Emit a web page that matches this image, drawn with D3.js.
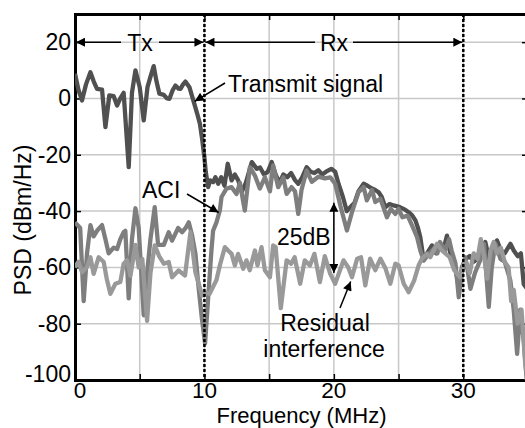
<!DOCTYPE html>
<html>
<head>
<meta charset="utf-8">
<script src="https://cdn.jsdelivr.net/npm/d3@7"></script>
<style>
  body { margin: 0; background: white; }
  text { font-family: "Liberation Sans", Arial, sans-serif; fill: black; }
</style>
</head>
<body>
<div id="chart"></div>
<script>
// frequency (MHz) / PSD (dBm/Hz)
const txFreq = [0,0.27,0.54,0.85,1.19,1.45,1.7,2.09,2.35,2.65,2.99,3.25,3.5,3.76,4.15,4.4,4.67,5.0,5.31,5.6,5.85,6.08,6.3,6.52,6.86,7.1,7.3,7.55,7.76,8.0,8.15,8.35,8.53,8.84,9.18,9.44,9.65,9.82,10.0,10.1,10.29,10.44,10.67,10.85,11.06,11.3,11.55,11.8,12.1,12.35,12.6,12.9,13.2,13.45,13.66,14.05,14.3,14.6,14.9,15.2,15.5,15.8,16.1,16.4,16.7,17.0,17.25,17.55,17.9,18.2,18.5,18.8,19.1,19.4,19.8,20.1,20.36,20.7,21.0,21.27,21.6,21.9,22.3,22.6,22.95,23.2,23.46,23.7,23.97,24.3,24.62,25.1,25.5,25.78,26.05,26.3,26.5,26.68,26.94,27.2,27.58,27.9,28.2,28.45,28.74,29.0,29.3,29.65,29.9,30.16,30.5,30.8,31.07,31.4,31.7,32.0,32.3,32.6,32.9,33.2,33.64,33.9,34.2,34.45,34.67,35]
const txPsd = [8.8,3,-0.7,5,9.3,6,3.4,3.1,-10.2,1.1,0.8,-2.5,0,2,-24.4,2,10,4,-7.8,4,8,11.5,6,1.7,1.3,0,-0.1,3,4.6,3.5,3.4,5,6,4,-1.3,-5.4,-9,-14.3,-21,-26,-31.5,-29.1,-29.7,-28,-30.3,-28,-31,-23.2,-29.1,-27,-29,-33,-30,-26,-22.6,-25,-24.5,-27,-26,-22.6,-27,-30,-27,-28,-26.5,-29,-30.3,-28,-24.4,-26,-26.5,-25.5,-27,-26,-25,-26,-30.3,-35,-40,-38.6,-37,-33,-30.3,-31,-32,-32.5,-33.3,-35,-38.6,-37.5,-38,-38.6,-39.5,-40.4,-41.5,-43.3,-46,-49.3,-57.5,-55,-52.2,-55,-52,-54,-48.7,-55,-58,-67,-60,-57,-56,-58,-57,-53,-51,-57,-55,-50.4,-54,-55,-51.6,-54,-56,-55,-66,-68]

const aciFreq = [0,0.4,0.67,0.93,1.19,1.44,1.7,2.09,2.35,2.6,2.99,3.25,3.5,3.76,3.89,4.15,4.4,4.67,4.92,5.31,5.57,5.83,6.16,6.42,6.86,7.24,7.5,7.97,8.28,8.55,8.79,9.05,9.3,9.56,9.8,10.05,10.3,10.54,10.67,10.93,11.19,11.32,11.7,12.1,12.48,12.74,13.12,13.51,13.9,14.28,14.67,15.06,15.31,15.7,16.1,16.35,16.73,17.0,17.25,17.5,17.9,18.3,18.8,19.3,19.72,20.1,20.5,21.01,21.4,21.9,22.3,22.55,22.95,23.2,23.6,24.1,24.4,24.75,25.0,25.3,25.7,26.04,26.43,26.68,26.94,27.3,27.7,28.0,28.2,28.6,28.9,29.1,29.4,29.65,29.9,30.15,30.3,30.55,30.9,31.3,31.6,31.97,32.2,32.48,32.87,33.2,33.64,33.9,34.16,34.4,34.67,34.9]
const aciPsd = [-44,-46,-72,-55,-45,-49,-47,-45,-50,-55,-53,-53.5,-50,-47.5,-47,-71,-50,-39,-46,-77,-62,-50,-38.6,-52,-52,-47.5,-50.5,-46,-47.5,-46,-44,-48.7,-55,-67.6,-78,-87,-70,-54,-47,-44,-39.8,-35,-32,-31.5,-33.9,-30,-39.8,-24.4,-27.4,-32,-28,-33,-23.8,-31.5,-28,-33.9,-31.5,-33,-41,-32.5,-25.6,-29.6,-27.8,-28.4,-28,-30.3,-38,-46.9,-40.4,-33.3,-31.5,-36.2,-32.5,-36.8,-35.6,-42.2,-39.2,-41,-39.2,-42.2,-41.6,-45.1,-49.3,-54,-57.5,-55.5,-53.4,-55,-51,-54,-50,-54,-58.7,-70.6,-62,-56.4,-59.9,-67.6,-62,-57.5,-51.6,-74,-60,-51.6,-57,-58,-64.7,-75.3,-90.7,-75,-86,-100]

const resFreq = [0,0.27,0.54,0.93,1.19,1.44,1.83,2.22,2.45,2.73,3.12,3.5,3.76,4.02,4.28,4.67,4.92,5.2,5.57,5.83,6.16,6.5,6.86,7.24,7.5,8.0,8.5,8.92,9.3,9.82,10.2,10.4,10.93,11.19,11.58,11.83,12.1,12.35,12.6,13.0,13.25,13.5,13.9,14.1,14.41,14.67,15.06,15.31,15.5,15.9,16.35,16.7,16.97,17.4,17.75,18.15,18.5,18.92,19.3,19.72,20.1,20.75,21.1,21.4,21.8,22.1,22.43,22.8,23.2,23.6,24.0,24.36,24.75,25.0,25.4,25.78,26.2,26.55,26.8,27.2,27.45,27.97,28.35,28.95,29.3,29.74,30.0,30.2,30.5,30.8,31.1,31.35,31.6,31.85,32.1,32.35,32.6,32.9,33.2,33.5,33.7,33.9,34.2,34.5,34.8,35]
const resPsd = [-60,-58,-61.7,-59.9,-56.4,-62.3,-56.4,-58.1,-64,-69.4,-65.8,-65.2,-58.7,-57.5,-63,-52,-60,-57,-79,-62,-52.2,-56,-58.7,-58.1,-63.5,-61.1,-62.9,-47.5,-61.7,-70,-69,-69.4,-64.5,-59.3,-52.8,-54,-55.2,-59.3,-55.2,-60.5,-57.5,-61,-54,-59.3,-52.8,-61,-63.5,-52.2,-52.8,-74.5,-57.5,-58.7,-56.4,-65.8,-57.5,-59.3,-55.2,-65.2,-56,-62.3,-65.8,-57.5,-59.9,-63.5,-56.9,-56.4,-66.4,-56.9,-61,-56.9,-60.5,-65.8,-58.7,-59.3,-65.8,-68.8,-64.7,-59.3,-56.9,-55.2,-56.4,-51.6,-54,-56.4,-61,-63.5,-59,-58,-62,-55,-57,-50,-56,-64,-54,-51,-55,-53,-58,-60,-72,-68,-80,-75,-95,-100]

const xTicks = [0, 10, 20, 30]
const yTicks = [20, 0, -20, -40, -60, -80, -100]
const bandEdges = [10, 30]

const width = 525;
const height = 428;
const margin = {top: 14, right: -3, bottom: 48, left: 75};

const svg = d3.select("#chart")
              .append("svg")
              .attr("width", width)
              .attr("height", height)

const x = d3.scaleLinear()
            .domain([0, 35])
            .range([margin.left, width - margin.right])

const y = d3.scaleLinear()
            .domain([-100, 30])
            .range([height - margin.bottom, margin.top])

svg.append("defs")
   .append("clipPath")
   .attr("id", "plot")
   .append("rect")
   .attr("x", x(0))
   .attr("y", y(30))
   .attr("width", x(35) - x(0))
   .attr("height", y(-100) - y(30))

const marker = svg.select("defs")
                  .append("marker")
                  .attr("id", "head")
                  .attr("viewBox", "0 0 10 10")
                  .attr("refX", 10)
                  .attr("refY", 5)
                  .attr("markerUnits", "userSpaceOnUse")
                  .attr("markerWidth", 11)
                  .attr("markerHeight", 9)
                  .attr("orient", "auto-start-reverse")
marker.append("path")
      .attr("d", "M0,0L10,5L0,10Z")
      .attr("fill", "black")

// grid
svg.append("g")
   .selectAll("line")
   .data(d3.range(5, 35, 5))
   .enter()
   .append("line")
   .attr("x1", d => x(d))
   .attr("x2", d => x(d))
   .attr("y1", y(30))
   .attr("y2", y(-100))
   .attr("stroke", "#c8c8c8")
   .attr("stroke-width", 1.5)

svg.append("g")
   .selectAll("line")
   .data(yTicks.slice(0, -1))
   .enter()
   .append("line")
   .attr("x1", x(0))
   .attr("x2", x(35))
   .attr("y1", d => y(d))
   .attr("y2", d => y(d))
   .attr("stroke", "#c8c8c8")
   .attr("stroke-width", 1.5)

// axes with inward ticks
const bottomAxis = d3.axisBottom(x).tickValues(d3.range(0, 36, 5)).tickSize(-6).tickFormat("")
const topAxis = d3.axisTop(x).tickValues(d3.range(0, 36, 5)).tickSize(-6).tickFormat("")
const leftAxis = d3.axisLeft(y).tickValues(yTicks).tickSize(-6).tickFormat("")
const rightAxis = d3.axisRight(y).tickValues(yTicks).tickSize(-6).tickFormat("")

const axes = [
  [bottomAxis, `translate(0,${y(-100)})`],
  [topAxis, `translate(0,${y(30)})`],
  [leftAxis, `translate(${x(0)},0)`],
  [rightAxis, `translate(${x(35)},0)`]
]
axes.forEach(([axis, t]) => {
  const g = svg.append("g").attr("transform", t).call(axis)
  g.select(".domain").attr("stroke", "black").attr("stroke-width", 3)
  g.selectAll(".tick line").attr("stroke", "black").attr("stroke-width", 1.5)
})

// series
const line = d3.line()
               .x(d => x(d[0]))
               .y(d => y(d[1]))

const series = [
  {freq: txFreq, psd: txPsd, color: "#505050"},
  {freq: aciFreq, psd: aciPsd, color: "#7e7e7e"},
  {freq: resFreq, psd: resPsd, color: "#999999"}
]

svg.append("g")
   .attr("clip-path", "url(#plot)")
   .selectAll("path")
   .data(series)
   .enter()
   .append("path")
   .attr("d", d => line(d.freq.map((f, i) => [f, d.psd[i]])))
   .attr("fill", "none")
   .attr("stroke", d => d.color)
   .attr("stroke-width", 4.3)
   .attr("stroke-linejoin", "round")

// band edges
svg.append("g")
   .selectAll("line")
   .data(bandEdges)
   .enter()
   .append("line")
   .attr("x1", d => x(d))
   .attr("x2", d => x(d))
   .attr("y1", y(30))
   .attr("y2", y(-100))
   .attr("stroke", "black")
   .attr("stroke-width", 2.5)
   .attr("stroke-dasharray", "3,2")

// tick labels
svg.append("g")
   .selectAll("text")
   .data(xTicks)
   .enter()
   .append("text")
   .attr("x", d => x(d) + (d === 0 ? 5 : 0))
   .attr("y", 398)
   .attr("text-anchor", "middle")
   .attr("font-size", 22.5)
   .text(d => d)

svg.append("g")
   .selectAll("text")
   .data(yTicks)
   .enter()
   .append("text")
   .attr("x", 71)
   .attr("y", d => y(d) + 8 - (d === -100 ? 6 : 0))
   .attr("text-anchor", "end")
   .attr("font-size", 23)
   .text(d => d)

svg.append("text")
   .attr("x", (x(0) + x(35)) / 2)
   .attr("y", 423)
   .attr("text-anchor", "middle")
   .attr("font-size", 22)
   .text("Frequency (MHz)")

svg.append("text")
   .attr("transform", "translate(31,220) rotate(-90)")
   .attr("text-anchor", "middle")
   .attr("font-size", 23)
   .text("PSD (dBm/Hz)")

// Tx / Rx span arrows
const spans = [
  {label: "Tx", from: 0, to: 10, mid: 140},
  {label: "Rx", from: 10, to: 30, mid: 334}
]
spans.forEach(s => {
  const yy = y(20)
  svg.append("line")
     .attr("x1", x(s.from) + 1).attr("x2", s.mid - 19)
     .attr("y1", yy).attr("y2", yy)
     .attr("stroke", "black").attr("stroke-width", 1.5)
     .attr("marker-start", "url(#head)")
  svg.append("line")
     .attr("x1", s.mid + 19).attr("x2", x(s.to) - 1)
     .attr("y1", yy).attr("y2", yy)
     .attr("stroke", "black").attr("stroke-width", 1.5)
     .attr("marker-end", "url(#head)")
  svg.append("text")
     .attr("x", s.mid).attr("y", yy + 9)
     .attr("text-anchor", "middle")
     .attr("font-size", 23)
     .text(s.label)
})

// annotations
const arrow = (x1, y1, x2, y2, both) => {
  const l = svg.append("line")
               .attr("x1", x1).attr("y1", y1)
               .attr("x2", x2).attr("y2", y2)
               .attr("stroke", "black").attr("stroke-width", 1.5)
               .attr("marker-end", "url(#head)")
  if (both) l.attr("marker-start", "url(#head)")
}

svg.append("text").attr("x", 228).attr("y", 92).attr("font-size", 23).text("Transmit signal")
arrow(225, 83, x(9.25), y(-1), false)

svg.append("text").attr("x", 142).attr("y", 198).attr("font-size", 23).text("ACI")
arrow(187, 194, x(11.1), y(-40.5), false)

svg.append("text").attr("x", 277).attr("y", 245).attr("font-size", 23).text("25dB")
arrow(x(20), y(-37), x(20), y(-62), true)

svg.append("text").attr("x", 325).attr("y", 331).attr("text-anchor", "middle").attr("font-size", 23).text("Residual")
svg.append("text").attr("x", 324).attr("y", 357).attr("text-anchor", "middle").attr("font-size", 23).text("interference")
arrow(340, 308, x(21.3), y(-65), false)
</script>
</body>
</html>
